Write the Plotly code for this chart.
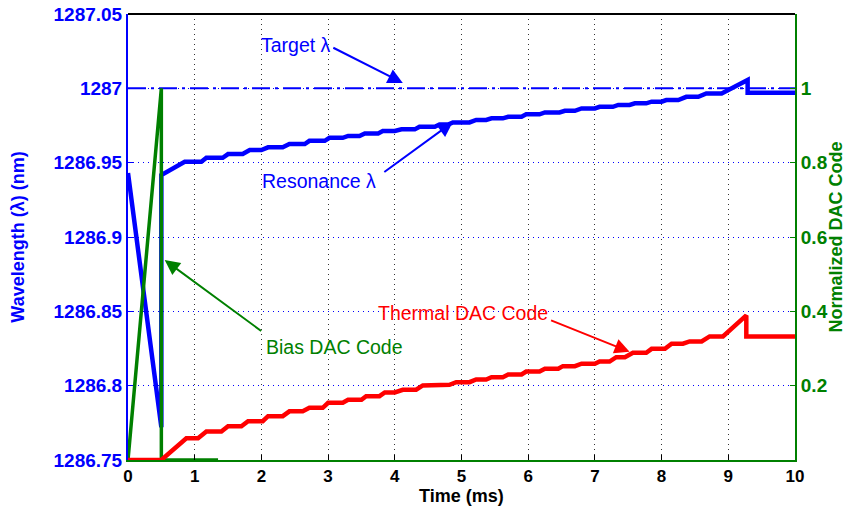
import plotly.graph_objects as go

# ---- data ----
res_t = [0, 0.5, 0.5, 0.85, 1.10, 1.175, 1.42, 1.50, 1.72, 1.825, 2.0, 2.10, 2.32, 2.42, 2.65,
         2.72, 2.95, 3.02, 3.22, 3.30, 3.47, 3.55, 3.75, 3.82, 4.0, 4.10, 4.30, 4.37, 4.60, 4.67,
         4.80, 4.87, 5.12, 5.22, 5.37, 5.45, 5.62, 5.70, 5.90, 5.97, 6.17, 6.25, 6.47, 6.55, 6.70,
         6.80, 7.0, 7.07, 7.27, 7.35, 7.52, 7.60, 7.77, 7.85, 8.0, 8.07, 8.25, 8.37, 8.55, 8.67,
         8.90, 9.0, 9.29, 9.29, 10]
res_w = [1286.943, 1286.772, 1286.9417, 1286.9506, 1286.9506, 1286.9533, 1286.9533, 1286.9558,
         1286.9558, 1286.9585, 1286.9585, 1286.9603, 1286.9603, 1286.9625, 1286.9625, 1286.9647,
         1286.9647, 1286.9667, 1286.9667, 1286.968, 1286.968, 1286.9697, 1286.9697, 1286.9713,
         1286.9713, 1286.9724, 1286.9724, 1286.9742, 1286.9742, 1286.9757, 1286.9757, 1286.9771,
         1286.9771, 1286.9787, 1286.9787, 1286.9798, 1286.9798, 1286.9809, 1286.9809, 1286.9825,
         1286.9825, 1286.9838, 1286.9838, 1286.9849, 1286.9849, 1286.9865, 1286.9865, 1286.9876,
         1286.9876, 1286.9888, 1286.9888, 1286.9899, 1286.9899, 1286.991, 1286.991, 1286.9921,
         1286.9921, 1286.9943, 1286.9943, 1286.9966, 1286.9966, 1286.9989, 1287.0056, 1286.997,
         1286.997]

target_t = [0, 10]
target_w = [1287.0, 1287.0]

bias_t = [0, 0.5, 0.5, 1.35]
bias_v = [0, 1.0, 0, 0]

therm_t = [0, 0.5, 0.875, 1.05, 1.175, 1.40, 1.50, 1.70, 1.80, 2.02, 2.10, 2.32, 2.42, 2.62, 2.72,
           2.92, 3.0, 3.22, 3.30, 3.50, 3.57, 3.77, 3.85, 4.0, 4.12, 4.32, 4.42, 4.82, 4.92, 5.12,
           5.22, 5.37, 5.45, 5.62, 5.70, 5.90, 5.97, 6.17, 6.25, 6.45, 6.52, 6.70, 6.80, 7.0, 7.07,
           7.22, 7.32, 7.45, 7.57, 7.77, 7.85, 8.05, 8.15, 8.32, 8.42, 8.60, 8.72, 8.92, 9.27, 9.27, 10]
therm_v = [0, 0, 0.0587, 0.0587, 0.0767, 0.0767, 0.091, 0.091, 0.1045, 0.1045, 0.118, 0.118, 0.131,
           0.131, 0.1405, 0.1405, 0.154, 0.154, 0.162, 0.162, 0.1717, 0.1717, 0.1817, 0.1817, 0.189,
           0.189, 0.2005, 0.2024, 0.2094, 0.2094, 0.2167, 0.2167, 0.2229, 0.2229, 0.230, 0.230, 0.238,
           0.238, 0.2455, 0.2455, 0.2525, 0.2525, 0.259, 0.259, 0.265, 0.265, 0.2767, 0.2767, 0.2886,
           0.2886, 0.299, 0.299, 0.3128, 0.3128, 0.319, 0.319, 0.3324, 0.3324, 0.389, 0.3324, 0.3324]

x_ticks = [0, 1, 2, 3, 4, 5, 6, 7, 8, 9, 10]
left_ticks = [1286.75, 1286.8, 1286.85, 1286.9, 1286.95, 1287.0, 1287.05]
left_labels = ["1286.75", "1286.8", "1286.85", "1286.9", "1286.95", "1287", "1287.05"]
right_ticks = [0.2, 0.4, 0.6, 0.8, 1.0]
right_labels = ["0.2", "0.4", "0.6", "0.8", "1"]

BLUE = "#0000FF"
GREEN = "#008000"
RED = "#FF0000"
FONT = "Liberation Sans, Arial, sans-serif"

fig = go.Figure()
fig.add_trace(go.Scatter(x=target_t, y=target_w, mode="lines",
                         line=dict(color=BLUE, width=2, dash="18px,5px,3px,5px"), yaxis="y"))
fig.add_trace(go.Scatter(x=res_t, y=res_w, mode="lines",
                         line=dict(color=BLUE, width=4.5), yaxis="y"))
fig.add_trace(go.Scatter(x=bias_t, y=bias_v, mode="lines",
                         line=dict(color=GREEN, width=3.5), yaxis="y2"))
fig.add_trace(go.Scatter(x=therm_t, y=therm_v, mode="lines",
                         line=dict(color=RED, width=4.5), yaxis="y2"))

fig.update_layout(
    width=846, height=508,
    margin=dict(l=128, r=51, t=14, b=48, autoexpand=False),
    plot_bgcolor="white", paper_bgcolor="white",
    showlegend=False,
    font=dict(family=FONT),
    xaxis=dict(range=[0, 10], tickvals=x_ticks, ticktext=["<b>%d</b>" % v for v in x_ticks],
               tickfont=dict(family=FONT, size=17, color="black"), automargin=False,
               showgrid=True, gridcolor="#333333", griddash="1px,4px", gridwidth=1,
               showline=True, linecolor=GREEN, linewidth=2,
               ticks="inside", ticklen=5, tickcolor="black", zeroline=False),
    yaxis=dict(range=[1286.75, 1287.05], tickvals=left_ticks, ticktext=["<b>%s</b>" % s for s in left_labels],
               tickfont=dict(family=FONT, size=19, color=BLUE), automargin=False,
               showgrid=True, gridcolor=BLUE, griddash="1px,4px", gridwidth=1,
               showline=True, linecolor=BLUE, linewidth=2,
               ticks="inside", ticklen=5, tickcolor=BLUE, zeroline=False,
               title=dict(text="<b>Wavelength (λ) (nm)</b>", font=dict(family=FONT, size=18, color=BLUE),
                          standoff=24)),
    yaxis2=dict(range=[0, 1.2], overlaying="y", side="right", tickvals=right_ticks,
                ticktext=["<b>%s</b>" % s for s in right_labels],
                tickfont=dict(family=FONT, size=19, color=GREEN), automargin=False,
                showgrid=False, showline=True, linecolor=GREEN, linewidth=2,
                ticks="inside", ticklen=5, tickcolor=GREEN, zeroline=False,
                title=dict(text="<b>Normalized DAC Code</b>", font=dict(family=FONT, size=18, color=GREEN),
                           standoff=2)),
)

# x-axis title placed as text below the tick labels
fig.add_annotation(text="<b>Time (ms)</b>", x=0.5, y=-0.081, xref="paper", yref="paper",
                   showarrow=False, font=dict(family=FONT, size=18, color="black"),
                   xanchor="center", yanchor="middle")

# top border
fig.add_shape(type="line", xref="paper", yref="paper", x0=0, x1=1, y0=1, y1=1,
              line=dict(color="black", width=2))

labels = [
    ("Target λ", 0.252, 0.930, BLUE),
    ("Resonance λ", 0.286, 0.625, BLUE),
    ("Bias DAC Code", 0.309, 0.253, GREEN),
    ("Thermal DAC Code", 0.502, 0.330, RED),
]
for txt, xp, yp, col in labels:
    fig.add_annotation(text=txt, x=xp, y=yp, xref="paper", yref="paper", showarrow=False,
                       font=dict(family=FONT, size=19.5, color=col), xanchor="center", yanchor="middle")

arrows = [
    (4.12, 1287.0036, -71, -36, BLUE),
    (4.87, 1286.9773, -70, 51, BLUE),
    (0.55, 1286.8845, 98, 72, GREEN),
    (7.52, 1286.8228, -80, -32, RED),
]
for x, y, ax, ay, col in arrows:
    fig.add_annotation(x=x, y=y, xref="x", yref="y", ax=ax, ay=ay, text="", showarrow=True,
                       arrowhead=2, arrowsize=1.5, arrowwidth=2, arrowcolor=col, standoff=0)

fig.write_html("out.html")
